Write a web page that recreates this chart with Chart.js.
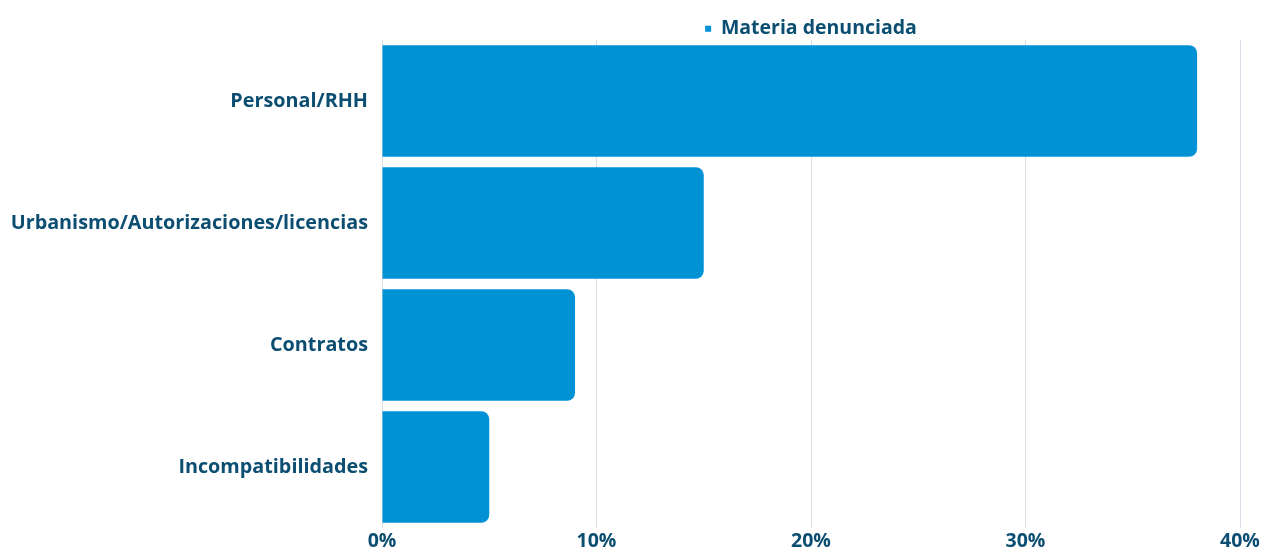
<!DOCTYPE html>
<html>
<head>
<meta charset="utf-8">
<script src="https://cdn.jsdelivr.net/npm/chart.js@4/dist/chart.umd.min.js"></script>
<style>
html,body{margin:0;padding:0;background:#fff;}
#wrap{width:1265px;height:549px;position:relative;}
</style>
</head>
<body>
<div id="wrap"><canvas id="c" width="1265" height="549"></canvas></div>
<script>
const categories = ["Personal/RHH", "Urbanismo/Autorizaciones/licencias", "Contratos", "Incompatibilidades"];
const seriesName = "Materia denunciada";
const values = [38, 15, 9, 5];
const xTicks = [0, 10, 20, 30, 40];

const TEXT = "#0c4e72";
const BAR = "#0092d5";
const FONT = "'Open Sans'";

const legendHeight = {
  id: 'legendHeight',
  beforeInit(chart) {
    const orig = chart.legend.fit;
    chart.legend.fit = function () { orig.bind(chart.legend)(); this.height = 40; };
  }
};

new Chart(document.getElementById('c'), {
  type: 'bar',
  data: {
    labels: categories,
    datasets: [{
      label: seriesName,
      data: values,
      backgroundColor: BAR,
      borderRadius: 8,
      borderSkipped: 'start',
      barPercentage: 0.915,
      categoryPercentage: 1.0
    }]
  },
  options: {
    indexAxis: 'y',
    responsive: false,
    animation: false,
    layout: { padding: { left: 0, right: 0, top: 0, bottom: 0 } },
    plugins: {
      tooltip: { enabled: false },
      legend: {
        position: 'top',
        fullSize: false,
        labels: {
          color: TEXT,
          font: { family: FONT, size: 19.5, weight: '700' },
          boxWidth: 6,
          boxHeight: 6,
          padding: 19
        }
      }
    },
    scales: {
      x: {
        min: 0, max: 40,
        afterBuildTicks(scale) { scale.ticks = xTicks.map(v => ({ value: v })); },
        afterFit(scale) { scale.height = 21; scale.paddingRight = 25; scale.paddingLeft = 0; },
        grid: { color: '#d6dfe7', drawTicks: false, lineWidth: 1 },
        border: { display: false },
        ticks: {
          color: TEXT,
          padding: 2,
          font: { family: FONT, size: 19.5, weight: '700' },
          callback: v => v + '%'
        }
      },
      y: {
        afterFit(scale) { scale.width = 382; scale.paddingTop = 0; scale.paddingBottom = 0; },
        grid: { display: false, drawTicks: false },
        border: { display: false },
        ticks: {
          color: TEXT,
          padding: 14,
          font: { family: FONT, size: 19.8, weight: '700' }
        }
      }
    }
  },
  plugins: [legendHeight]
});
</script>
</body>
</html>
